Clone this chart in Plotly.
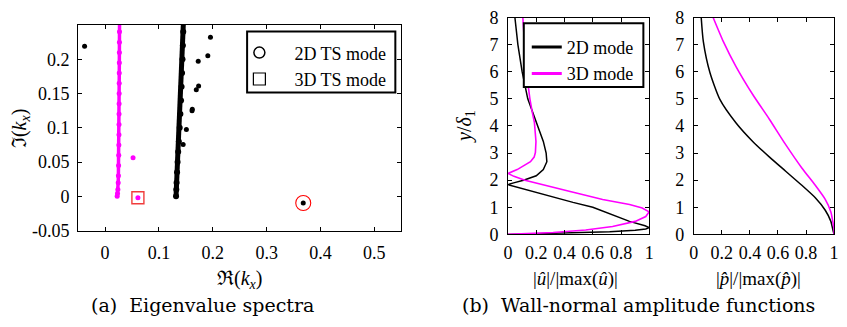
import plotly.graph_objects as go

W, H = 847, 327

# ---- (a) eigenvalue spectra: Re(k_x), Im(k_x) ----
branch2d_im = [0.0, 0.01, 0.02, 0.035, 0.05, 0.065, 0.08, 0.1, 0.12, 0.14, 0.16, 0.18, 0.2, 0.22, 0.24, 0.26]
branch2d_re = [0.1318, 0.1323, 0.1328, 0.1337, 0.1347, 0.1358, 0.1370, 0.1386, 0.1399, 0.1411, 0.1421, 0.1430, 0.1438, 0.1445, 0.1452, 0.1458]

branch3d_im = [0.0, 0.004, 0.01, 0.02, 0.03, 0.045, 0.06, 0.075, 0.09, 0.105, 0.12, 0.135,
               0.15, 0.165, 0.18, 0.195, 0.21, 0.225, 0.24, 0.255]
branch3d_re = [0.0225, 0.0232, 0.0238, 0.0244, 0.0248, 0.0251, 0.0254, 0.0256, 0.0258, 0.0259, 0.0260, 0.0261,
               0.0262, 0.0263, 0.0264, 0.0265, 0.0266, 0.0267, 0.0268, 0.0269]

discrete2d_re = [-0.038, 0.145, 0.151, 0.1615, 0.162, 0.1694, 0.1737, 0.173, 0.1908, 0.1957]
discrete2d_im = [0.219, 0.0755, 0.0977, 0.125, 0.127, 0.1556, 0.161, 0.197, 0.205, 0.232]

discrete3d_re = [0.052]
discrete3d_im = [0.0565]

ts2d_re, ts2d_im = [0.368], [-0.0097]
ts3d_re, ts3d_im = [0.061], [-0.002]

# ---- (b) wall-normal amplitude functions ----
u2d_y = [0.0, 0.03, 0.06, 0.1, 0.15, 0.2, 0.25, 0.32, 0.48, 0.72, 0.9, 1.0, 1.18, 1.46, 1.65, 1.78, 1.835,
         1.9, 2.0, 2.16, 2.39, 2.68, 3.0, 3.43, 4.0, 4.5, 5.0, 6.0, 7.0, 8.0]
u2d = [0.0, 0.25, 0.5, 0.72, 0.9, 0.975, 1.0, 0.97, 0.86, 0.74, 0.64, 0.6, 0.46, 0.26, 0.13, 0.04, 0.0,
       0.04, 0.11, 0.2, 0.25, 0.275, 0.27, 0.25, 0.21, 0.17, 0.14, 0.10, 0.07, 0.049]

u3d_y = [0.0, 0.02, 0.07, 0.16, 0.29, 0.48, 0.66, 0.83, 0.97, 1.10, 1.29, 1.58, 1.87, 2.0, 2.14, 2.25,
         2.39, 2.55, 2.68, 2.85, 3.02, 3.43, 4.12, 4.5, 5.0, 6.0, 7.0, 8.0]
u3d = [0.0, 0.11, 0.32, 0.55, 0.74, 0.90, 0.975, 0.998, 0.95, 0.86, 0.67, 0.44, 0.205, 0.12, 0.042, 0.0,
       0.065, 0.12, 0.159, 0.185, 0.194, 0.198, 0.187, 0.172, 0.155, 0.13, 0.115, 0.105]

p2d_y = [0.0, 0.2, 0.48, 0.89, 1.35, 1.81, 2.33, 2.85, 3.43, 4.12, 4.99, 5.97, 7.12, 8.0]
p2d = [1.0, 0.99, 0.977, 0.937, 0.866, 0.77, 0.655, 0.54, 0.42, 0.30, 0.185, 0.115, 0.068, 0.053]

p3d_y = [0.0, 0.17, 0.5, 0.83, 1.29, 1.81, 2.45, 3.31, 4.24, 5.16, 6.2, 7.12, 8.0]
p3d = [1.0, 1.0, 0.99, 0.977, 0.937, 0.866, 0.77, 0.655, 0.54, 0.42, 0.30, 0.21, 0.138]

re_ticks = [0, 0.1, 0.2, 0.3, 0.4, 0.5]
re_ticktext = ["0", "0.1", "0.2", "0.3", "0.4", "0.5"]
im_ticks = [-0.05, 0, 0.05, 0.1, 0.15, 0.2]
im_ticktext = ["-0.05", "0", "0.05", "0.1", "0.15", "0.2"]
amp_ticks = [0, 0.2, 0.4, 0.6, 0.8, 1]
amp_ticktext = ["0", "0.2", "0.4", "0.6", "0.8", "1"]
y_ticks = [0, 1, 2, 3, 4, 5, 6, 7, 8]

MAGENTA = "#ff00ff"
SERIF = "Liberation Serif"
FS = 18


def px_x(v):
    return v / W


def px_y(v):
    return 1 - v / H


fig = go.Figure()

# continuous branches
fig.add_trace(go.Scatter(x=branch3d_re, y=branch3d_im, mode="lines+markers",
                         line=dict(color=MAGENTA, width=3.5), marker=dict(color=MAGENTA, size=5),
                         showlegend=False, xaxis="x", yaxis="y"))
fig.add_trace(go.Scatter(x=branch2d_re, y=branch2d_im, mode="lines+markers",
                         line=dict(color="black", width=5), marker=dict(color="black", size=6),
                         showlegend=False, xaxis="x", yaxis="y"))
# discrete modes
fig.add_trace(go.Scatter(x=discrete2d_re, y=discrete2d_im, mode="markers",
                         marker=dict(color="black", size=5), showlegend=False, xaxis="x", yaxis="y"))
fig.add_trace(go.Scatter(x=discrete3d_re + ts3d_re, y=discrete3d_im + ts3d_im, mode="markers",
                         marker=dict(color=MAGENTA, size=5), showlegend=False, xaxis="x", yaxis="y"))
fig.add_trace(go.Scatter(x=ts2d_re, y=ts2d_im, mode="markers",
                         marker=dict(color="black", size=5), showlegend=False, xaxis="x", yaxis="y"))
# TS mode highlights
fig.add_trace(go.Scatter(x=ts2d_re, y=ts2d_im, mode="markers",
                         marker=dict(symbol="circle-open", color="red", size=15, line=dict(width=1.1)),
                         showlegend=False, xaxis="x", yaxis="y"))
fig.add_trace(go.Scatter(x=ts3d_re, y=ts3d_im, mode="markers",
                         marker=dict(symbol="square-open", color="#f03c3c", size=12, line=dict(width=1.4)),
                         showlegend=False, xaxis="x", yaxis="y"))
# legend entries for the spectra
fig.add_trace(go.Scatter(x=[None], y=[None], mode="markers", name="2D TS mode",
                         marker=dict(symbol="circle-open", color="black", size=11, line=dict(width=1.5)),
                         legend="legend", xaxis="x", yaxis="y"))
fig.add_trace(go.Scatter(x=[None], y=[None], mode="markers", name="3D TS mode",
                         marker=dict(symbol="square-open", color="black", size=12, line=dict(width=1.2)),
                         legend="legend", xaxis="x", yaxis="y"))

# amplitude functions
fig.add_trace(go.Scatter(x=u2d, y=u2d_y, mode="lines", line=dict(color="black", width=1.5),
                         showlegend=False, xaxis="x2", yaxis="y2"))
fig.add_trace(go.Scatter(x=u3d, y=u3d_y, mode="lines", line=dict(color=MAGENTA, width=1.6),
                         showlegend=False, xaxis="x2", yaxis="y2"))
fig.add_trace(go.Scatter(x=p2d, y=p2d_y, mode="lines", line=dict(color="black", width=1.5, shape="spline", smoothing=0.6),
                         showlegend=False, xaxis="x3", yaxis="y3"))
fig.add_trace(go.Scatter(x=p3d, y=p3d_y, mode="lines", line=dict(color=MAGENTA, width=1.6, shape="spline", smoothing=0.6),
                         showlegend=False, xaxis="x3", yaxis="y3"))
fig.add_trace(go.Scatter(x=[None], y=[None], mode="lines", name="2D mode",
                         line=dict(color="black", width=3), legend="legend2", xaxis="x2", yaxis="y2"))
fig.add_trace(go.Scatter(x=[None], y=[None], mode="lines", name="3D mode",
                         line=dict(color=MAGENTA, width=3), legend="legend2", xaxis="x2", yaxis="y2"))

axis_common = dict(showline=True, linecolor="black", linewidth=1, mirror="allticks",
                   ticks="inside", ticklen=4, tickcolor="black", tickwidth=1,
                   showgrid=False, zeroline=False, ticklabeloverflow="allow",
                   tickfont=dict(family=SERIF, size=FS, color="black"))

fig.update_layout(
    width=W, height=H,
    margin=dict(l=0, r=0, t=0, b=0),
    paper_bgcolor="white", plot_bgcolor="white",
    xaxis=dict(domain=[px_x(74), px_x(401)], range=[-0.05, 0.55], anchor="y",
               tickvals=re_ticks, ticktext=re_ticktext, ticklabelstandoff=6, **axis_common),
    yaxis=dict(domain=[px_y(235), px_y(16)], range=[-0.05, 0.25], anchor="x",
               tickvals=im_ticks, ticktext=im_ticktext, ticklabelstandoff=4, **axis_common),
    xaxis2=dict(domain=[px_x(509), px_x(652)], range=[0, 1], anchor="y2",
                tickvals=amp_ticks, ticktext=amp_ticktext, ticklabelstandoff=2, **axis_common),
    yaxis2=dict(domain=[px_y(239), px_y(8)], range=[0, 8], anchor="x2",
                tickvals=y_ticks, ticklabelstandoff=5, **axis_common),
    xaxis3=dict(domain=[px_x(697), px_x(839)], range=[0, 1], anchor="y3",
                tickvals=amp_ticks, ticktext=amp_ticktext, ticklabelstandoff=2, **axis_common),
    yaxis3=dict(domain=[px_y(239), px_y(8)], range=[0, 8], anchor="x3",
                tickvals=y_ticks, ticklabelstandoff=5, **axis_common),
    legend=dict(x=px_x(222), y=px_y(26), xanchor="left", yanchor="top",
                bgcolor="rgba(0,0,0,0)", borderwidth=0, itemwidth=60,
                font=dict(family=SERIF, size=FS, color="black")),
    legend2=dict(x=px_x(528), y=px_y(20), xanchor="left", yanchor="top",
                 bgcolor="rgba(0,0,0,0)", borderwidth=0, itemwidth=30,
                 font=dict(family=SERIF, size=FS, color="black")),
)

# legend frames
fig.add_shape(type="rect", xref="paper", yref="paper",
              x0=px_x(245), x1=px_x(395), y0=px_y(88), y1=px_y(23),
              line=dict(color="black", width=2), fillcolor="white", layer="above")
fig.add_shape(type="rect", xref="paper", yref="paper",
              x0=px_x(525), x1=px_x(646), y0=px_y(82), y1=px_y(14),
              line=dict(color="black", width=2), fillcolor="white", layer="above")


def label(text, x, y, size=FS, angle=0, family=SERIF):
    fig.add_annotation(text=text, x=px_x(x), y=px_y(y), xref="paper", yref="paper",
                       xanchor="center", yanchor="middle", showarrow=False, textangle=angle,
                       font=dict(family=family, size=size, color="black"))


label("ℑ(<i>k</i><sub><i>x</i></sub>)", 15, 126, size=20, angle=-90)
label("ℜ(<i>k</i><sub><i>x</i></sub>)", 237, 287, size=20)
label("<i>y</i>/<i>δ</i><sub>1</sub>", 466, 124, size=20, angle=-90)
label("|<i>û</i>|/|max(<i>û</i>)|", 577, 287, size=19)
label("|<i>p̂</i>|/|max(<i>p̂</i>)|", 762, 287, size=19)
label("(a)  Eigenvalue spectra", 200, 314, size=19, family="DejaVu Serif")
label("(b)  Wall-normal amplitude functions", 641, 314, size=19, family="DejaVu Serif")

fig.write_html("out.html")
